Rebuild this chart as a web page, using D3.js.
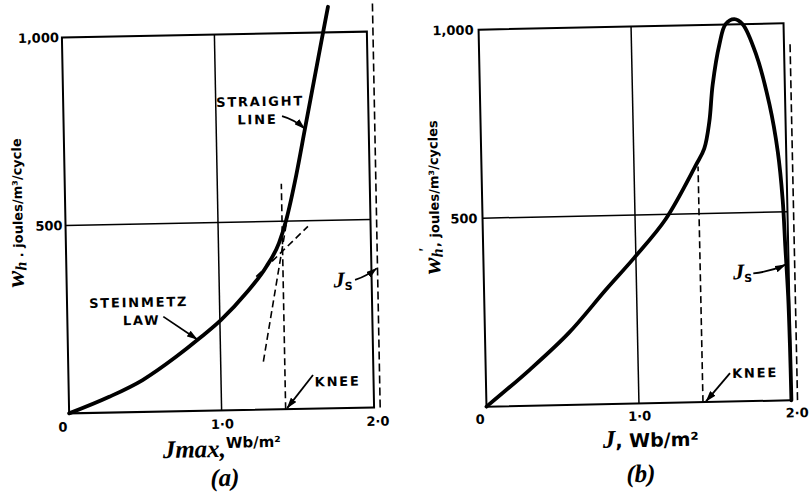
<!DOCTYPE html>
<html>
<head>
<meta charset="utf-8">
<script src="https://d3js.org/d3.v7.min.js"></script>
<style>
body { margin: 0; background: #fff; }
svg { display: block; }
.tick text { font-family: "DejaVu Sans", sans-serif; font-weight: bold; font-size: 13px; fill: #000; }
.note { font-family: "DejaVu Sans", sans-serif; font-weight: bold; font-size: 13px; letter-spacing: 1.8px; }
.sans { font-family: "DejaVu Sans", sans-serif; font-weight: bold; }
.ital { font-family: "Liberation Serif", serif; font-weight: bold; font-style: italic; }
</style>
</head>
<body>
<div id="canvas"></div>
<script>
var xTickValues = [0, 1, 2];
var xTickLabels = ["0", "1·0", "2·0"];
var yTickValues = [500, 1000];
var yTickLabels = ["500", "1,000"];

// (a) loss per cycle against peak flux density
var aJ = [0, 0.265, 0.486, 0.708, 0.864, 1.008, 1.176, 1.311, 1.397, 1.448, 1.519, 1.582, 1.705, 1.748];
var aW = [0, 42, 85, 145, 193, 241, 311, 380, 442, 504, 622, 745, 985, 1068];
var aKnee = [[1.42, 0], [1.42, 600]];
var aSteep = [[1.28, 128], [1.46, 520]];     // straight line carried down
var aTangent = [[1.244, 354], [1.589, 485]]; // steinmetz law carried on
var aSat = [[2.04, 0], [2.04, 1075]];

// (b) rotational loss
var bJ = [0, 0.29, 0.55, 0.80, 0.99, 1.20, 1.405, 1.463, 1.50, 1.527, 1.577, 1.62, 1.678, 1.732, 1.816, 1.897, 1.945, 1.97, 1.981, 1.993, 1.998, 2.0];
var bW = [0, 96, 191, 304, 387, 487, 628, 672, 743, 841, 948, 1001, 1014, 1000, 919, 785, 659, 534, 409, 276, 143, 0];
var bKnee = [[1.42, 0], [1.42, 625]];
var bSat = [[2.04, 0], [2.04, 955]];

var svg = d3.select("#canvas").append("svg")
    .attr("width", 811)
    .attr("height", 493);
svg.append("rect").attr("width", 811).attr("height", 493).attr("fill", "#fff");

svg.append("defs").append("marker")
    .attr("id", "arrow")
    .attr("viewBox", "0 0 11 7")
    .attr("refX", 10.5).attr("refY", 3.5)
    .attr("markerWidth", 11).attr("markerHeight", 7)
    .attr("markerUnits", "userSpaceOnUse")
    .attr("orient", "auto")
    .append("path").attr("d", "M0,0 L11,3.5 L0,7 Z").attr("fill", "#000");

function panel(o) {
    var g = svg.append("g")
        .attr("transform", "rotate(" + o.angle + "," + o.cx + "," + o.cy + ")");
    var x = d3.scaleLinear().domain([0, 2]).range([o.left, o.left + o.width]);
    var y = d3.scaleLinear().domain([0, 1000]).range([o.top + o.height, o.top]);

    // frame and the two grid lines
    g.append("rect")
        .attr("x", x(0)).attr("y", y(1000))
        .attr("width", x(2) - x(0)).attr("height", y(0) - y(1000))
        .attr("fill", "none").attr("stroke", "#000").attr("stroke-width", 2);
    g.append("line")
        .attr("x1", x(1)).attr("x2", x(1)).attr("y1", y(0)).attr("y2", y(1000))
        .attr("stroke", "#000").attr("stroke-width", 1.5);
    g.append("line")
        .attr("x1", x(0)).attr("x2", x(2)).attr("y1", y(500)).attr("y2", y(500))
        .attr("stroke", "#000").attr("stroke-width", 1.5);

    var xa = g.append("g")
        .attr("transform", "translate(0," + y(0) + ")")
        .call(d3.axisBottom(x).tickValues(xTickValues)
            .tickFormat(function(d, i) { return xTickLabels[i]; })
            .tickSize(0).tickPadding(o.xPad));
    xa.select(".domain").remove();
    xa.selectAll("text").attr("dx", function(d, i) { return o.xShift[i]; });

    var ya = g.append("g")
        .attr("transform", "translate(" + x(0) + ",0)")
        .call(d3.axisLeft(y).tickValues(yTickValues)
            .tickFormat(function(d, i) { return yTickLabels[i]; })
            .tickSize(0).tickPadding(o.yPad));
    ya.select(".domain").remove();

    return { g: g, x: x, y: y, o: o };
}

function dashed(p, pts, dash) {
    p.g.append("path")
        .datum(pts)
        .attr("fill", "none")
        .attr("stroke", "#000")
        .attr("stroke-width", 1.6)
        .attr("stroke-dasharray", dash)
        .attr("d", d3.line().x(function(d) { return p.x(d[0]); }).y(function(d) { return p.y(d[1]); }));
}

function curve(p, js, ws, kind) {
    p.g.append("path")
        .datum(d3.zip(js, ws))
        .attr("fill", "none")
        .attr("stroke", "#000")
        .attr("stroke-width", 3.8)
        .attr("stroke-linejoin", "round")
        .attr("stroke-linecap", "round")
        .attr("d", d3.line()
            .x(function(d) { return p.x(d[0]); })
            .y(function(d) { return p.y(d[1]); })
            .curve(kind));
}

// arrow from an offset (in px) to a point given in data units
function arrow(p, tip, tail, bend) {
    var tx = p.x(tip[0]), ty = p.y(tip[1]);
    var sx = tx + tail[0], sy = ty + tail[1];
    var mx = (sx + tx) / 2, my = (sy + ty) / 2;
    var len = Math.sqrt(tail[0] * tail[0] + tail[1] * tail[1]);
    var cx = mx + bend * (-tail[1]) / len, cy = my + bend * tail[0] / len;
    p.g.append("path")
        .attr("d", "M" + sx + "," + sy + " Q" + cx + "," + cy + " " + tx + "," + ty)
        .attr("fill", "none").attr("stroke", "#000").attr("stroke-width", 1.8)
        .attr("marker-end", "url(#arrow)");
    return [tx, ty];
}

function note(p, at, lines) {
    lines.forEach(function(l) {
        p.g.append("text")
            .attr("class", "note")
            .attr("x", at[0] + l[1])
            .attr("y", at[1] + l[2] + 5)
            .attr("text-anchor", "middle")
            .text(l[0]);
    });
}

function jsLabel(p, at, off) {
    var t = p.g.append("text")
        .attr("x", at[0] + off[0])
        .attr("y", at[1] + off[1] + 6)
        .attr("text-anchor", "middle");
    t.append("tspan").attr("class", "ital").style("font-size", "22px").text("J");
    t.append("tspan").attr("class", "sans").style("font-size", "11px").attr("dy", 3).text("S");
}

// ---------- (a)
var pa = panel({ left: 65.5, top: 34.5, width: 305, height: 376, angle: -1.1, cx: 218, cy: 222.5,
                 xPad: 9, yPad: 3, xShift: [-7, 0, 3] });
dashed(pa, aSat, "8,4");
dashed(pa, aKnee, "7,4");
dashed(pa, aSteep, "7,4");
dashed(pa, aTangent, "7,4");
curve(pa, aJ, aW, d3.curveMonotoneX);

var t1 = arrow(pa, [1.58, 745], [-22.4, -12.9], 3);
note(pa, t1, [["STRAIGHT", -44, -28.5], ["LINE", -47, -10.5]]);
var t2 = arrow(pa, [0.85, 190], [-33.6, -23.5], 0);
note(pa, t2, [["STEINMETZ", -58, -38.6], ["LAW", -55.4, -20.6]]);
var t3 = arrow(pa, [1.43, 3], [26.5, -32.6], 0);
note(pa, t3, [["KNEE", 51, -26]]);
var t4 = arrow(pa, [2.035, 370], [-21.9, 11.2], -2);
jsLabel(pa, t4, [-33.9, 12]);

var ya1 = pa.g.append("text")
    .attr("transform", "translate(" + (pa.o.left - 43) + "," + (pa.o.top + 174.5) + ") rotate(-90)")
    .attr("text-anchor", "middle");
ya1.append("tspan").attr("class", "ital").style("font-size", "25px").text("w");
ya1.append("tspan").attr("class", "ital").style("font-size", "16px").attr("dy", 3).text("h");
ya1.append("tspan").attr("class", "sans").style("font-size", "13px").attr("dy", -3).text(" . joules/m³/cycle");

var xa1 = pa.g.append("text")
    .attr("x", pa.o.left + 152)
    .attr("y", pa.y(0) + 46.5)
    .attr("text-anchor", "middle");
xa1.append("tspan").attr("class", "ital").style("font-size", "25px").text("J");
xa1.append("tspan").attr("class", "ital").style("font-size", "25px").text("max,");
xa1.append("tspan").attr("class", "sans").style("font-size", "15px").attr("dy", -9).text("Wb/m²");

pa.g.append("text")
    .attr("class", "ital")
    .style("font-size", "25px")
    .attr("x", pa.o.left + 154.5)
    .attr("y", pa.y(0) + 75.5)
    .attr("text-anchor", "middle")
    .text("(a)");

// ---------- (b)
var pb = panel({ left: 482.5, top: 26.5, width: 305, height: 377, angle: -1.2, cx: 635, cy: 215,
                 xPad: 8, yPad: 5, xShift: [-7, 0, 5] });
dashed(pb, bSat, "8,4");
dashed(pb, bKnee, "7,4");
curve(pb, bJ, bW, d3.curveCatmullRom.alpha(0.5));

var t5 = arrow(pb, [1.44, 2], [24.6, -27.7], 0);
note(pb, t5, [["KNEE", 49.6, -27.7]]);
var t6 = arrow(pb, [1.98, 360], [-32.4, 8], -3);
jsLabel(pb, t6, [-43.2, 7.5]);

var yb1 = pb.g.append("text")
    .attr("transform", "translate(" + (pb.o.left - 43.5) + "," + (pb.o.top + 166.5) + ") rotate(-90)")
    .attr("text-anchor", "middle");
yb1.append("tspan").attr("class", "ital").style("font-size", "25px").text("w");
yb1.append("tspan").attr("class", "ital").style("font-size", "16px").attr("dy", 3).text("h");
yb1.append("tspan").attr("class", "ital").style("font-size", "16px").attr("dy", -13).attr("dx", -4).text("'");
yb1.append("tspan").attr("class", "sans").style("font-size", "13px").attr("dy", 10).attr("dx", 1).text(", joules/m³/cycles");

var xb1 = pb.g.append("text")
    .attr("x", pb.o.left + 163.5)
    .attr("y", pb.y(0) + 43.5)
    .attr("text-anchor", "middle");
xb1.append("tspan").attr("class", "ital").style("font-size", "25px").text("J");
xb1.append("tspan").attr("class", "sans").style("font-size", "19px").text(", Wb/m²");

pb.g.append("text")
    .attr("class", "ital")
    .style("font-size", "25px")
    .attr("x", pb.o.left + 153)
    .attr("y", pb.y(0) + 78.5)
    .attr("text-anchor", "middle")
    .text("(b)");
</script>
</body>
</html>
